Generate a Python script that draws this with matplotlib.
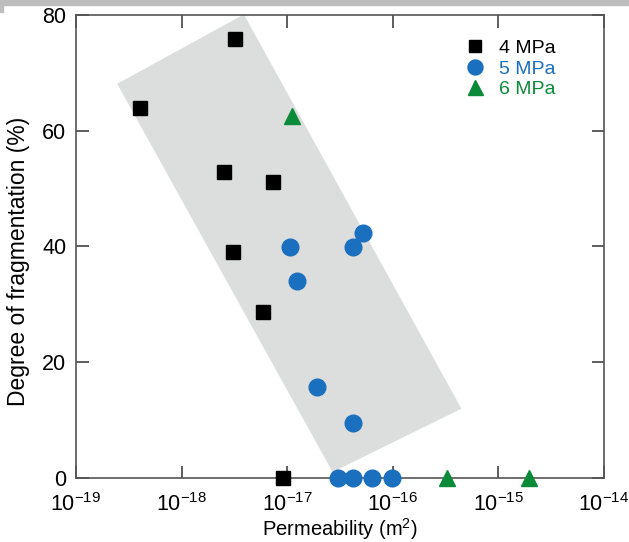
import numpy as np
import matplotlib
matplotlib.use("Agg")
import matplotlib.pyplot as plt
from matplotlib.patches import Polygon, Rectangle

plt.rcParams['font.family'] = ['Liberation Sans', 'DejaVu Sans']
plt.rcParams['mathtext.fontset'] = 'custom'
plt.rcParams['mathtext.rm'] = 'Liberation Sans'
plt.rcParams['mathtext.default'] = 'regular'

# 4 MPa
perm_4 = [4.0e-19, 3.2e-18, 2.5e-18, 7.3e-18, 3.1e-18, 5.9e-18, 9.1e-18]
frag_4 = [64.0, 75.8, 52.9, 51.2, 39.0, 28.7, 0.0]

# 5 MPa
perm_5 = [1.06e-17, 4.2e-17, 5.2e-17, 1.24e-17, 1.91e-17, 4.2e-17,
          3.0e-17, 4.2e-17, 6.4e-17, 9.8e-17]
frag_5 = [39.9, 39.9, 42.3, 34.0, 15.7, 9.4, 0.0, 0.0, 0.0, 0.0]

# 6 MPa
perm_6 = [1.11e-17, 3.26e-16, 1.95e-15]
frag_6 = [62.6, 0.0, 0.0]

# shaded trend band (log10 permeability, fragmentation)
band_logk = [-18.61, -17.41, -15.35, -16.57]
band_frag = [68.1, 80.1, 11.9, 0.95]

black = '#000000'
blue = '#1a6fbf'
green = '#0b8a3a'

fig = plt.figure(figsize=(6.29, 5.42), dpi=100)
ax = fig.add_axes([0.1208, 0.119, 0.8395, 0.8533])

# gray bar at top of the figure
fig.patches.append(Rectangle((0, 1 - 5 / 542), 1, 5 / 542, transform=fig.transFigure,
                             color='#bdbdbd', zorder=0))
fig.patches.append(Rectangle((0, 1 - 12 / 542), 3 / 629, 12 / 542, transform=fig.transFigure,
                             color='#bdbdbd', zorder=0))

band = Polygon(list(zip(10.0 ** np.array(band_logk), band_frag)), closed=True,
               facecolor='#dcdddd', edgecolor='none', zorder=1)
ax.add_patch(band)

ax.plot(perm_4, frag_4, 's', color=black, markersize=10, label='4 MPa',
        clip_on=False, zorder=3)
ax.plot(perm_5, frag_5, 'o', color=blue, markersize=12, label='5 MPa',
        clip_on=False, zorder=3)
ax.plot(perm_6, frag_6, '^', color=green, markersize=12, label='6 MPa',
        clip_on=False, zorder=3)

ax.set_xscale('log')
ax.set_xlim(1e-19, 1e-14)
ax.set_ylim(0, 80)
ax.set_xticks([1e-19, 1e-18, 1e-17, 1e-16, 1e-15, 1e-14])
ax.set_xticklabels(['$10^{-19}$', '$10^{-18}$', '$10^{-17}$', '$10^{-16}$',
                    '$10^{-15}$', '$10^{-14}$'])
ax.xaxis.set_minor_locator(matplotlib.ticker.NullLocator())
ax.set_yticks([0, 20, 40, 60, 80])

ax.tick_params(axis='both', direction='in', length=9, width=1.1, color='#333333',
               labelsize=15.5, top=True, right=True)
ax.tick_params(axis='x', pad=11)
ax.tick_params(axis='y', pad=7)
for s in ax.spines.values():
    s.set_color('#555555')
    s.set_linewidth(1.2)

ax.set_xlabel('Permeability (m$^2$)', fontsize=14.5)
ax.xaxis.set_label_coords(0.5, -0.083)
ax.set_ylabel('Degree of fragmentation (%)', fontsize=16.5)
ax.yaxis.set_label_coords(-0.087, 0.468)

ax.legend(loc='upper right', bbox_to_anchor=(0.942, 0.985), frameon=False, fontsize=14,
          labelcolor='linecolor', handletextpad=0.63, labelspacing=0.15,
          handlelength=1.2, markerscale=0.9)

fig.savefig('out.png', dpi=100)
